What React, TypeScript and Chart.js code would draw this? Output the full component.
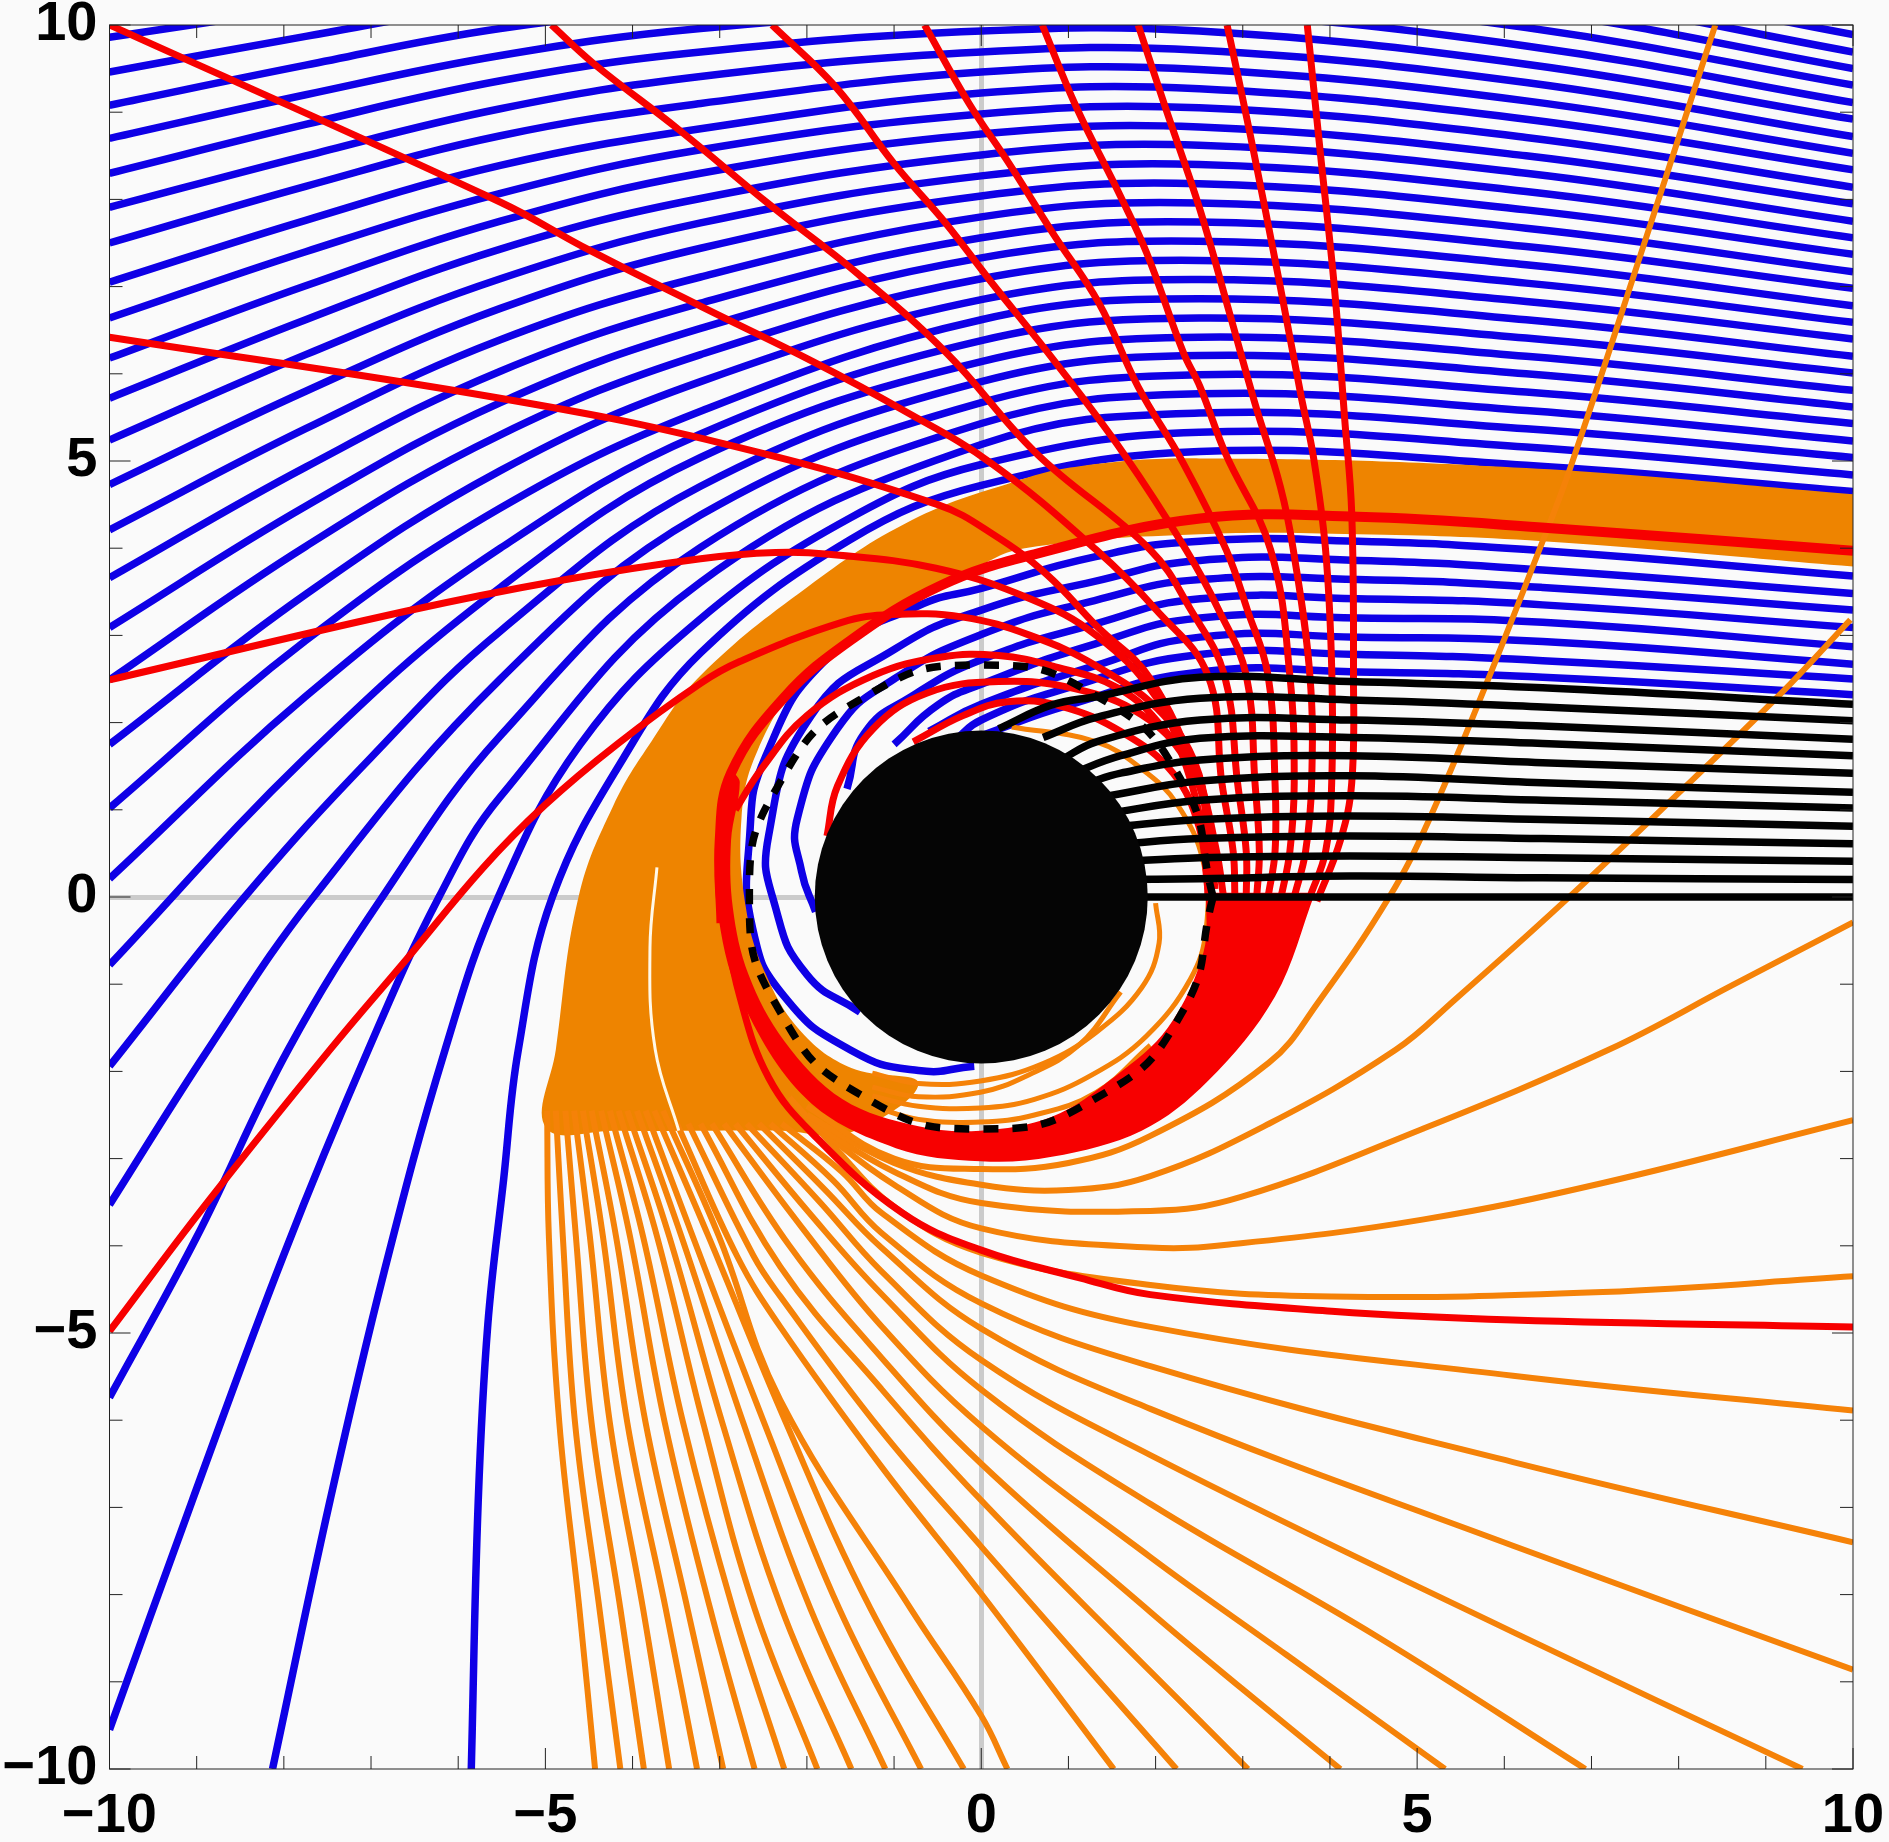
import React, { useEffect, useRef } from "react";
import { Chart, registerables } from "chart.js";

Chart.register(...registerables);

type Pt = number[];

const tickMarks = [-10,-9,-8,-7,-6,-5,-4,-3,-2,-1,0,1,2,3,4,5,6,7,8,9,10];

// Upper blue rays read on a shared set of x positions
const blueGridX = [-10, -7.75, -5.516, -3.22, 0, 2.5, 6.25, 10];
const blueGridY = [
  [-0.78,1.6,3.55,5.04,6.14,6.42,6.2,5.81],
  [0.21,2.3,4.0,5.31,6.38,6.64,6.41,6.01],
  [1.02,2.94,4.46,5.57,6.62,6.86,6.62,6.2],
  [1.75,3.47,4.89,5.91,6.85,7.08,6.83,6.4],
  [2.49,4.02,5.3,6.22,7.09,7.3,7.04,6.59],
  [3.09,4.48,5.67,6.52,7.33,7.52,7.25,6.78],
  [3.66,4.93,6.03,6.81,7.56,7.74,7.46,6.98],
  [4.21,5.37,6.39,7.11,7.8,7.96,7.67,7.17],
  [4.73,5.8,6.75,7.44,8.04,8.18,7.88,7.37],
  [5.24,6.22,7.09,7.73,8.27,8.4,8.09,7.56],
  [5.72,6.62,7.43,8.01,8.51,8.62,8.3,7.75],
  [6.18,7.01,7.75,8.3,8.75,8.83,8.5,7.95],
  [6.64,7.4,8.07,8.57,8.98,9.05,8.71,8.14],
  [7.05,7.76,8.39,8.81,9.22,9.27,8.92,8.34],
  [7.5,8.15,8.73,9.1,9.46,9.49,9.13,8.53],
  [7.91,8.5,9.04,9.41,9.69,9.71,9.34,8.72],
  [8.3,8.86,9.36,9.69,9.93,9.93,9.55,8.92],
  [8.7,9.2,9.65,9.96,10.16,10.15,9.76,9.11],
  [9.08,9.54,9.96,10.2,10.4,10.37,9.97,9.31],
  [9.46,9.87,10.25,10.5,10.63,10.59,10.18,9.5],
  [9.86,10.2,10.55,10.8,10.87,10.8,10.38,9.69],
  [10.25,10.55,10.85,11.1,11.1,11.0,10.59,9.89],
];

const blueLow: Pt[][] = [
  [[-5.85,-10],[-5.77,-6.92],[-5.66,-4.9],[-5.48,-3.25],[-5.31,-1.75],[-4.92,0],[-4.1,1.6],[-3.22,2.8],[-1.5,4.1],[0,4.72],[2.5,5.11],[6.25,4.95],[10,4.65]],
  [[-8.13,-10],[-7.47,-6.92],[-6.85,-4.3],[-6.15,-1.75],[-5.54,0],[-4.6,1.75],[-3.22,3.19],[-1.5,4.35],[0,4.96],[2.5,5.33],[6.25,5.16],[10,4.84]],
  [[-10,-9.55],[-9.05,-6.92],[-8,-4.1],[-7.03,-1.75],[-6.22,0],[-5.516,1.15],[-3.22,3.61],[0,5.19],[2.5,5.55],[6.25,5.37],[10,5.04]],
  [[-10,-5.74],[-9,-3.9],[-7.95,-1.75],[-6.87,0],[-5.516,1.85],[-3.22,4.01],[0,5.43],[2.5,5.77],[6.25,5.58],[10,5.23]],
  [[-10,-3.53],[-8.87,-1.75],[-7.66,0],[-5.516,2.5],[-3.22,4.38],[0,5.67],[2.5,5.99],[6.25,5.79],[10,5.43]],
  [[-10,-1.94],[-8.45,0],[-7,1.6],[-5.516,3.05],[-3.22,4.71],[0,5.91],[2.5,6.21],[6.25,6.0],[10,5.62]],
];

const blueInner: Pt[][] = [
  [[10,3.68],[6.44,3.97],[4.32,4.08],[2.51,4.08],[1.3,3.9],[0,3.54],[-0.72,3.34],[-1.75,2.75],[-2.47,1.62],[-2.66,0.65],[-2.62,-0.37],[-2.26,-1.14],[-1.49,-1.76],[-0.72,-1.99],[-0.08,-1.94]],
  [[10,3.48],[6.44,3.75],[4.32,3.86],[2.51,3.86],[1.3,3.62],[0,3.29],[-0.98,2.85],[-1.95,2.08],[-2.44,0.7],[-2.36,-0.12],[-2.0,-0.89],[-1.39,-1.32]],
  [[10,3.29],[6.44,3.55],[4.32,3.64],[2.51,3.64],[1.3,3.4],[0,3.01],[-1,2.5],[-1.65,1.93],[-2.11,0.9],[-2.06,0.29],[-1.9,-0.17]],
  [[10,3.09],[6.44,3.35],[4.32,3.42],[2.51,3.42],[1.3,3.13],[0,2.72],[-0.8,2.3],[-1.34,1.88],[-1.54,1.24]],
  [[10,2.87],[6.44,3.15],[4.32,3.2],[2.51,3.2],[1.3,2.9],[0,2.44],[-0.5,2.2],[-1,1.75]],
  [[10,2.67],[6.44,2.93],[4.32,2.98],[2.51,2.98],[1.3,2.65],[0,2.21],[-0.6,1.9]],
  [[10,2.5],[6.44,2.71],[4.32,2.78],[2.51,2.78],[1,2.4],[0,2.03],[-0.3,1.8]],
  [[10,2.32],[6.44,2.52],[4.32,2.58],[2.51,2.58],[1,2.2],[0,1.85]],
];

const orangeBandOutline: Pt[] = [
  [10,4.62],[6.25,4.92],[2.5,5.03],[1.13,4.94],[0.37,4.76],[-0.8,4.32],[-2,3.55],[-3.22,2.54],[-3.78,1.79],[-4.22,1.05],[-4.62,0],[-4.88,-1.75],[-4.99,-2.65],
  [-4.2,-2.68],[-3.2,-2.68],[-2.3,-2.68],[-1.5,-2.7],[-0.72,-2.14],[-1.49,-1.96],[-2.06,-1.55],[-2.47,-0.89],[-2.7,-0.12],[-2.75,0.91],[-2.57,1.67],[-2.06,2.49],[-1.24,3.16],[-0.11,3.75],[0.5,4.0],[2.51,4.16],[4.32,4.16],[6.44,4.08],[10,3.79],
];

const redBandOutline: Pt[] = [
  [3.83,0.05],[3.37,-1.14],[2.6,-2.11],[1.84,-2.68],[0.81,-2.98],[-0.01,-3.03],[-0.98,-2.88],[-2.0,-2.32],[-2.77,-1.14],[-3.03,-0.12],[-3.03,0.65],[-2.87,1.42],
  [-2.77,1.32],[-2.87,0.65],[-2.85,-0.12],[-2.67,-0.89],[-2.26,-1.65],[-1.59,-2.32],[-0.72,-2.63],[-0.01,-2.68],[0.81,-2.52],[1.53,-2.06],[2.14,-1.5],[2.55,-0.63],[2.58,0.05],
];

const whiteGap: Pt[] = [[-3.72,0.34],[-3.8,-0.58],[-3.74,-1.75],[-3.47,-2.68]];

// Orange rays leaving the band towards the bottom edge, left of the pale gap
const fanLeft: Pt[][] = [
  [[-4.98,-2.45],[-4.96,-3.89],[-4.84,-6.03],[-4.61,-8.16],[-4.43,-10]],
  [[-4.88,-2.45],[-4.8,-3.89],[-4.66,-6.03],[-4.38,-8.16],[-4.14,-10]],
  [[-4.77,-2.45],[-4.65,-3.89],[-4.47,-6.03],[-4.14,-8.16],[-3.87,-10]],
  [[-4.67,-2.45],[-4.49,-3.89],[-4.26,-6.03],[-3.88,-8.16],[-3.58,-10]],
  [[-4.57,-2.45],[-4.34,-3.89],[-4.06,-6.03],[-3.62,-8.16],[-3.26,-10]],
  [[-4.47,-2.45],[-4.19,-3.89],[-3.85,-6.03],[-3.37,-8.16],[-2.96,-10]],
  [[-4.36,-2.45],[-4.03,-3.89],[-3.63,-6.03],[-3.11,-8.16],[-2.6,-10]],
  [[-4.26,-2.45],[-3.88,-3.89],[-3.42,-6.03],[-2.85,-8.16],[-2.26,-10]],
  [[-4.16,-2.45],[-3.72,-3.89],[-3.19,-6.03],[-2.6,-8.16],[-1.88,-10]],
  [[-4.06,-2.45],[-3.58,-3.89],[-2.97,-6.03],[-2.29,-8.16],[-1.49,-10]],
  [[-3.95,-2.45],[-3.44,-3.89],[-2.73,-6.03],[-1.96,-8.16],[-1.1,-10]],
  [[-3.85,-2.45],[-3.31,-3.89],[-2.49,-6.03],[-1.63,-8.16],[-0.69,-10]],
  [[-3.75,-2.45],[-3.13,-3.89],[-2.24,-6.03],[-1.27,-8.16],[-0.2,-10]],
  [[-3.65,-2.45],[-3.01,-3.89],[-2.305,-5.77],[-0.81,-8.16],[0,-9.39],[0.3,-10]],
];

// Orange rays right of the gap, reaching the bottom and right edges
const fanRight: Pt[][] = [
  [[1.52,-10],[0,-7.99],[-1.147,-6.53],[-2.305,-4.93],[-2.8,-4.12],[-3.49,-2.6]],
  [[2.24,-10],[0,-7.45],[-1.147,-6.12],[-2.305,-4.58],[-2.61,-4.12],[-3.36,-2.6]],
  [[3.06,-10],[1.94,-8.88],[0,-6.92],[-1.147,-5.64],[-2.305,-4.24],[-3.22,-2.6]],
  [[4.12,-10],[2.98,-9.07],[1.94,-8.2],[0,-6.5],[-1.147,-5.28],[-2.2,-4.0],[-3.09,-2.6]],
  [[5.32,-10],[3.5,-8.69],[1.94,-7.57],[0,-6.07],[-1.147,-4.92],[-2.05,-3.8],[-2.95,-2.6]],
  [[6.93,-10],[4.54,-8.48],[1.94,-6.96],[0,-5.65],[-1.147,-4.55],[-1.95,-3.65],[-2.82,-2.6]],
  [[9.42,-10],[6.1,-8.43],[1.94,-6.4],[0,-5.31],[-1.147,-4.29],[-1.85,-3.5],[-2.69,-2.6]],
  [[10,-8.86],[6.1,-7.44],[1.94,-5.87],[0,-4.95],[-1.147,-4.02],[-1.8,-3.35],[-2.55,-2.6]],
  [[10,-7.4],[6.1,-6.48],[1.94,-5.38],[0,-4.66],[-1.147,-3.85],[-1.7,-3.25],[-2.42,-2.6]],
  [[10,-5.89],[6.1,-5.49],[1.94,-4.93],[0,-4.34],[-1.147,-3.62],[-1.6,-3.15],[-2.29,-2.6]],
];

const orangeSpokes: Pt[][] = [
  [[8.42,10],[7.63,7.57],[6.76,4.93],[6.44,4.08],[5.78,2.41],[5.13,0.87],[4.68,0],[3.87,-1.2],[3.3,-1.9],[1.94,-2.74],[1,-3.05],[0,-3.12],[-1,-3.0],[-2,-2.4]],
  [[9.97,3.18],[9.16,2.32],[7.8,1.0],[6.69,-0.05],[5.43,-1.18],[4.75,-1.755],[3.3,-2.6],[1.94,-3.2],[1,-3.36],[0,-3.3],[-1,-3.05],[-2,-2.5]],
  [[10,-0.29],[8.6,-1.02],[7.19,-1.755],[5.06,-2.66],[2.98,-3.44],[1.94,-3.6],[0,-3.51],[-1,-3.15],[-2,-2.55]],
  [[10,-2.56],[7.13,-3.28],[5.06,-3.7],[2.98,-3.97],[1.94,-4.02],[0,-3.8],[-1,-3.3],[-2,-2.55]],
  [[10,-4.35],[7.13,-4.53],[4.02,-4.58],[1.94,-4.45],[0,-4.08],[-1,-3.55],[-1.7,-2.85],[-2.2,-2.3]],
];

const orangeArcs: Pt[][] = [
  [[2.0,-0.07],[2.04,-0.53],[1.84,-1.04],[1.32,-1.55],[0.71,-1.91],[-0.01,-2.11],[-0.72,-2.14],[-1.25,-2.02]],
  [[1.6,-1.09],[1.12,-1.7],[0.5,-2.06],[-0.01,-2.24],[-0.72,-2.29],[-1.25,-2.18]],
  [[0.35,1.95],[1.32,1.78],[1.84,1.47],[2.25,1.06],[2.55,0.39],[2.58,-0.37],[2.4,-0.94],[1.89,-1.6],[1.27,-2.04],[0.61,-2.32],[-0.01,-2.42],[-0.72,-2.4],[-1.25,-2.28]],
  [[1.94,-1.7],[1.32,-2.24],[0.61,-2.5],[-0.01,-2.58],[-0.72,-2.55],[-1.25,-2.4]],
];

const redSpokes: Pt[][] = [
  [[3.74,10],[3.89,8.53],[4.05,7],[4.17,5.47],[4.25,4.4],[4.27,2.54],[4.25,1.31],[4.12,0.65],[3.85,-0.05]],
  [[2.82,10],[3.09,8.72],[3.43,7],[3.67,5.74],[3.81,5.05],[3.95,3.98],[4.02,2.63],[4.02,1.31],[3.95,0.52],[3.77,0]],
  [[1.8,10],[2.11,9.06],[2.51,7.88],[2.85,6.69],[3.14,5.66],[3.43,4.71],[3.58,3.98],[3.77,2.54],[3.79,1.31],[3.72,0.52],[3.59,0]],
  [[0.7,10],[1.09,9.06],[1.6,8.03],[1.9,7.38],[2.32,6.24],[2.51,5.85],[2.8,5.09],[3.32,3.98],[3.54,2.54],[3.59,1.31],[3.54,0.52],[3.44,0]],
  [[-0.65,10],[-0.14,9.1],[0.32,8.41],[0.83,7.6],[1.35,6.81],[1.8,5.85],[2.32,4.97],[2.81,3.98],[3.05,3.3],[3.29,2.54],[3.37,1.31],[3.37,0.52],[3.29,0]],
  [[-2.4,10],[-1.67,9.29],[-1,8.41],[-0.41,7.73],[0.1,7.07],[0.86,6.12],[1.63,5.09],[2.35,3.98],[2.72,3.3],[3.04,2.54],[3.14,1.31],[3.19,0.52],[3.16,0]],
  [[-4.93,10],[-4.45,9.56],[-3.47,8.8],[-2.44,7.95],[-1.42,7.15],[-0.39,6.23],[0.63,5.09],[1.94,3.98],[2.4,3.3],[2.79,2.54],[2.94,1.31],[3.04,0.52],[3.04,0]],
  [[-10,10],[-5.52,7.97],[-4.5,7.42],[-3.21,6.77],[-1.93,6.14],[-0.91,5.59],[0.12,4.97],[1.32,3.98],[2.0,3.3],[2.6,2.54],[2.76,1.31],[2.89,0.52],[2.91,0]],
  [[-10,6.42],[-5.52,5.72],[-2.96,5.2],[-0.5,4.5],[0.15,4.15],[0.75,3.7],[1.32,3.11],[1.94,2.5],[2.5,1.31],[2.7,0.52],[2.78,0]],
];

const redCurves: Pt[][] = [
  [[-10,2.49],[-6.59,3.28],[-4.83,3.63],[-3.22,3.88],[-2.36,3.95],[-1.75,3.93],[-0.52,3.77],[0.56,3.42],[1.32,3.0],[2.0,2.3],[2.35,1.5],[2.55,0.7],[2.65,0]],
  [[-10,-4.98],[-8.9,-3.53],[-7.47,-1.75],[-6.59,-0.71],[-5.71,0.34],[-5.01,1.05],[-4.18,1.75],[-3.22,2.45],[-2.77,2.7],[-1.6,3.15],[-1.03,3.24],[-0.21,3.21],[0.56,3.0],[1.32,2.65],[2.09,2.09],[2.5,1.4],[2.58,0.6],[2.6,0]],
  [[10,-4.93],[6.1,-4.85],[4.02,-4.75],[1.94,-4.56],[1.14,-4.37],[0,-4.05],[-0.91,-3.62],[-1.93,-2.72],[-2.44,-2.07],[-2.77,-1.14],[-2.98,-0.12]],
  [[-2.82,1.0],[-2.52,1.47],[-2.0,2.08],[-1.24,2.54],[-0.47,2.75],[0.2,2.77],[0.81,2.65],[1.58,2.39],[2.09,1.93],[2.55,1.2],[2.6,0.4],[2.62,0]],
  [[-1.77,0.7],[-1.65,1.27],[-1.24,1.93],[-0.62,2.34],[0.2,2.47],[1.07,2.39],[1.84,2.09],[2.35,1.57],[2.6,0.9],[2.68,0.09]],
  [[-0.78,1.78],[-0.21,2.08],[0.3,2.24],[0.91,2.19],[1.63,1.88],[2.2,1.42],[2.5,0.8],[2.6,0.09]],
];

const redStrand: Pt[] = [[10,3.97],[6.54,4.23],[4.32,4.36],[2.51,4.34],[0.61,3.93],[-0.47,3.57],[-1.49,2.95],[-2.26,2.29],[-2.87,1.42],[-3.0,0.65],[-2.98,-0.3]];

const blackLines: Pt[][] = [
  [[10,0],[6.44,0],[4.23,0],[1.5,0]],
  [[10,0.2],[6.44,0.22],[4.23,0.24],[2.51,0.21],[1.5,0.2]],
  [[10,0.41],[6.44,0.45],[4.23,0.47],[2.51,0.45],[1.5,0.4]],
  [[10,0.61],[6.44,0.67],[4.23,0.7],[2.51,0.67],[1.5,0.6]],
  [[10,0.81],[6.44,0.89],[4.23,0.93],[2.51,0.89],[1.5,0.8]],
  [[10,1.02],[6.44,1.11],[4.23,1.16],[2.51,1.11],[1.4,0.95]],
  [[10,1.2],[6.44,1.31],[4.23,1.39],[2.51,1.33],[1.4,1.15]],
  [[10,1.42],[6.44,1.54],[4.23,1.62],[2.51,1.57],[1.6,1.42],[1.2,1.3]],
  [[10,1.62],[6.44,1.76],[4.23,1.83],[2.51,1.82],[1.6,1.62],[1.0,1.4]],
  [[10,1.81],[6.44,1.96],[4.23,2.03],[2.51,2.03],[1.32,1.78],[0.91,1.57]],
  [[10,2.02],[6.44,2.18],[4.23,2.26],[2.51,2.28],[1.32,2.06],[0.71,1.83]],
  [[10,2.21],[6.44,2.4],[4.23,2.47],[2.51,2.52],[1.33,2.3],[0.8,2.2],[0.2,1.93]],
];

const photonRing: Pt[] = [[2.66,0],[2.3,1.33],[1.33,2.3],[0,2.66],[-1.33,2.3],[-2.3,1.33],[-2.66,0],[-2.3,-1.33],[-1.33,-2.3],[0,-2.66],[1.33,-2.3],[2.3,-1.33],[2.66,0]];
const horizonCentre: Pt[] = [[0,0]];

const BLUE = "#0f00e6";
const RED = "#f70000";
const ORANGE = "#f58208";
const BAND = "#ee8400";
const BLACK = "#000000";

const toXY = (pts: Pt[]) => pts.map(([x, y]) => ({ x, y }));
const line = (pts: Pt[], color: string, width: number, extra: object = {}) => ({
  data: toXY(pts),
  showLine: true,
  borderColor: color,
  backgroundColor: color,
  borderWidth: width,
  pointRadius: 0,
  tension: 0.4,
  fill: false,
  clip: 0,
  ...extra,
});

const closedFill = {
  id: "closedFill",
  afterDatasetDraw(chart: any, args: any) {
    const ds = chart.data.datasets[args.index];
    if (!ds.closedFill) return;
    const { ctx, chartArea: a } = chart;
    ctx.save();
    ctx.beginPath();
    ctx.rect(a.left, a.top, a.right - a.left, a.bottom - a.top);
    ctx.clip();
    ctx.beginPath();
    args.meta.dataset.path(ctx);
    ctx.closePath();
    ctx.fillStyle = ds.closedFill;
    ctx.fill();
    ctx.restore();
  },
};

const frame = {
  id: "frame",
  afterDraw(chart: any) {
    const { ctx, chartArea: a, scales } = chart;
    ctx.save();
    ctx.strokeStyle = "#222";
    ctx.lineWidth = 1;
    ctx.strokeRect(a.left, a.top, a.right - a.left, a.bottom - a.top);
    ctx.beginPath();
    for (const t of tickMarks) {
      const len = t % 5 === 0 ? 21 : 13;
      const px = scales.x.getPixelForValue(t);
      const py = scales.y.getPixelForValue(t);
      ctx.moveTo(px, a.bottom); ctx.lineTo(px, a.bottom - len);
      ctx.moveTo(px, a.top); ctx.lineTo(px, a.top + len);
      ctx.moveTo(a.left, py); ctx.lineTo(a.left + len, py);
      ctx.moveTo(a.right, py); ctx.lineTo(a.right - len, py);
    }
    ctx.stroke();
    ctx.restore();
  },
};

const noPad = (s: any) => { s.paddingLeft = 0; s.paddingRight = 0; s.paddingTop = 0; s.paddingBottom = 0; };

const axis = (fit: (s: any) => void, padding: number) => ({
  type: "linear",
  min: -10,
  max: 10,
  afterFit: (s: any) => { fit(s); noPad(s); },
  afterBuildTicks: (s: any) => { s.ticks = tickMarks.map((value) => ({ value })); },
  border: { display: false },
  grid: {
    drawTicks: false,
    color: (c: any) => (c.tick && c.tick.value === 0 ? "#cbcbcb" : "rgba(0,0,0,0)"),
    lineWidth: 5,
  },
  ticks: {
    autoSkip: false,
    maxRotation: 0,
    padding,
    color: "#000",
    font: { family: "'Liberation Sans'", weight: "bold", size: 56 },
    callback: (v: number) => (v % 5 === 0 ? String(v).replace("-", "\u2212") : ""),
  },
});

export default function App() {
  const ref = useRef<HTMLCanvasElement>(null);
  useEffect(() => {
    const datasets: any[] = [
      { data: toXY(horizonCentre), pointRadius: 166.5, pointBackgroundColor: "#050505", pointBorderWidth: 0, showLine: false, clip: 0 },
      line(photonRing, BLACK, 7.5, { borderDash: [15, 14], tension: 0.5 }),
      ...blackLines.map((l) => line(l, BLACK, 7.5)),
      ...redSpokes.map((l) => line(l, RED, 7)),
      ...redCurves.map((l) => line(l, RED, 7)),
      line(redStrand, RED, 10),
      line(redBandOutline, RED, 0, { closedFill: RED, tension: 0.35 }),
      line(whiteGap, "#fff8e8", 3),
      ...orangeSpokes.map((l) => line(l, ORANGE, 6)),
      ...fanRight.map((l) => line(l, ORANGE, 6)),
      ...fanLeft.map((l) => line(l, ORANGE, 6)),
      ...orangeArcs.map((l) => line(l, ORANGE, 5)),
      line(orangeBandOutline, BAND, 0, { closedFill: BAND, tension: 0.4 }),
      ...blueInner.map((l) => line(l, BLUE, 7.5, { tension: 0.5 })),
      ...blueGridY.map((row) => line(row.map((y, i) => [blueGridX[i], y]), BLUE, 7.5)),
      ...blueLow.map((l) => line(l, BLUE, 7.5)),
    ];
    const chart = new Chart(ref.current as HTMLCanvasElement, {
      type: "scatter",
      data: { datasets },
      plugins: [closedFill, frame],
      options: {
        animation: false,
        responsive: false,
        layout: { autoPadding: false, padding: { top: 25, right: 36, left: 0, bottom: 0 } },
        elements: { line: { capBezierPoints: false } },
        plugins: { legend: { display: false }, tooltip: { enabled: false }, title: { display: false } },
        scales: {
          x: axis((s: any) => { s.height = 73; }, 14),
          y: axis((s: any) => { s.width = 109.5; }, 12),
        },
      } as any,
    });
    return () => chart.destroy();
  }, []);
  return (
    <canvas
      ref={ref}
      width={1889}
      height={1842}
      style={{ position: "absolute", left: 0, top: 0, width: 1889, height: 1842, background: "#fafafa" }}
    />
  );
}
